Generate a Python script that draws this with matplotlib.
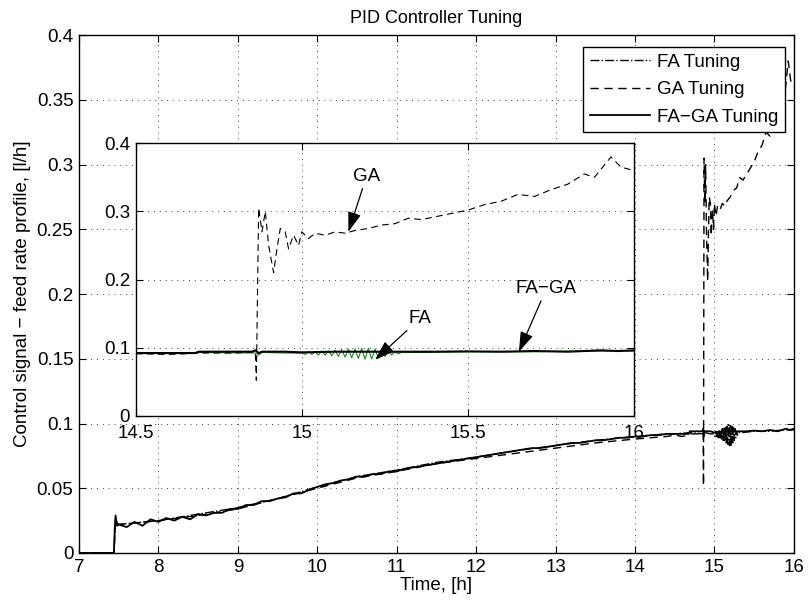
import numpy as np
import matplotlib.pyplot as plt

plt.rcParams['font.family'] = ['Liberation Sans', 'DejaVu Sans']
plt.rcParams['font.size'] = 13.5

# ---- early part of the run (7 h .. 14.4 h) ----
t_start = [7.0, 7.44, 7.45, 7.46, 7.48]
fa_ga_start = [0.0, 0.0, 0.018, 0.029, 0.021]
t_grid = np.round(np.arange(7.5, 14.45, 0.1), 2)
fa_ga_early = [0.022, 0.020, 0.024, 0.021, 0.026, 0.024, 0.027, 0.025, 0.028, 0.026,
               0.030, 0.029, 0.031, 0.031, 0.034, 0.034, 0.037, 0.037, 0.040, 0.040,
               0.042, 0.043, 0.046, 0.046, 0.049, 0.051, 0.053, 0.054, 0.056, 0.057,
               0.059, 0.059, 0.061, 0.061, 0.063, 0.063, 0.065, 0.066, 0.067, 0.068,
               0.069, 0.070, 0.071, 0.072, 0.073, 0.074, 0.075, 0.076, 0.077, 0.078,
               0.079, 0.080, 0.081, 0.081, 0.082, 0.083, 0.084, 0.085, 0.085, 0.086,
               0.087, 0.087, 0.088, 0.089, 0.089, 0.090, 0.090, 0.091, 0.091, 0.092]

t_coarse = [7.0, 7.44, 7.46, 7.5, 8.0, 8.5, 9.0, 9.5, 10.0, 10.5, 11.0, 11.5,
            12.0, 12.5, 13.0, 13.5, 14.0, 14.4]
ga_early = [0.0, 0.0, 0.025, 0.022, 0.025, 0.029, 0.034, 0.042, 0.050, 0.058, 0.063,
            0.069, 0.073, 0.077, 0.081, 0.085, 0.088, 0.090]
fa_early = [0.0, 0.0, 0.026, 0.022, 0.025, 0.030, 0.035, 0.042, 0.051, 0.059, 0.064,
            0.070, 0.074, 0.079, 0.083, 0.087, 0.090, 0.092]

# ---- detailed part (14.5 h .. 16 h), also shown in the inset ----
t_fa_ga = [14.5, 14.6, 14.68, 14.69, 14.75, 14.85, 14.86, 14.87, 14.88, 14.95, 15.0,
           15.1, 15.2, 15.3, 15.4, 15.5, 15.6, 15.7, 15.8, 15.85, 15.9, 15.95, 16.0]
fa_ga_late = [0.092, 0.092, 0.092, 0.094, 0.094, 0.094, 0.096, 0.092, 0.094, 0.094,
              0.093, 0.094, 0.094, 0.094, 0.094, 0.0945, 0.094, 0.095, 0.094, 0.095,
              0.096, 0.095, 0.096]

t_ga = [14.5, 14.6, 14.7, 14.8, 14.86, 14.863, 14.87, 14.88, 14.89, 14.9, 14.915,
        14.925, 14.935, 14.95, 14.96, 14.975, 14.99, 15.0, 15.02, 15.04, 15.07, 15.1,
        15.13, 15.16, 15.2, 15.24, 15.28, 15.32, 15.36, 15.4, 15.45, 15.5, 15.55, 15.6,
        15.65, 15.7, 15.75, 15.8, 15.85, 15.88, 15.93, 15.96, 16.0]
ga_late = [0.091, 0.090, 0.092, 0.092, 0.094, 0.052, 0.305, 0.27, 0.30, 0.25, 0.21,
           0.245, 0.275, 0.27, 0.245, 0.265, 0.25, 0.27, 0.26, 0.268, 0.265, 0.27,
           0.268, 0.272, 0.275, 0.28, 0.282, 0.29, 0.288, 0.292, 0.297, 0.302, 0.31,
           0.315, 0.325, 0.322, 0.332, 0.34, 0.355, 0.35, 0.38, 0.365, 0.36]

t_fa = [14.5, 14.7, 14.86, 14.87, 14.88, 14.95, 15.0, 15.01, 15.02, 15.03, 15.04,
        15.05, 15.06, 15.07, 15.08, 15.09, 15.10, 15.11, 15.12, 15.13, 15.14, 15.15,
        15.16, 15.17, 15.18, 15.19, 15.20, 15.21, 15.22, 15.23, 15.24, 15.25, 15.26,
        15.27, 15.28, 15.29, 15.30, 15.35, 15.5, 15.7, 15.85, 16.0]
fa_late = [0.092, 0.093, 0.092, 0.089, 0.093, 0.092, 0.092, 0.090, 0.094, 0.090,
           0.094, 0.089, 0.095, 0.089, 0.095, 0.088, 0.096, 0.087, 0.097, 0.086,
           0.098, 0.085, 0.098, 0.084, 0.099, 0.083, 0.099, 0.083, 0.098, 0.085,
           0.097, 0.087, 0.096, 0.089, 0.094, 0.091, 0.093, 0.093, 0.094, 0.094,
           0.095, 0.095]

t_main = t_start + list(t_grid) + t_fa_ga
fa_ga_main = fa_ga_start + fa_ga_early + fa_ga_late
t_ga_main = t_coarse + t_ga
ga_main = ga_early + ga_late
t_fa_main = t_coarse + t_fa
fa_main = fa_early + fa_late

fig = plt.figure(figsize=(8.1, 6.06), dpi=100)
ax = fig.add_axes([0.0975, 0.0875, 0.8825, 0.8545])

ax.plot(t_fa_main, fa_main, color='k', ls='-.', lw=1.0, label='FA Tuning')
ax.plot(t_ga_main, ga_main, color='k', ls=(0, (6, 4)), lw=1.0, label='GA Tuning')
ax.plot(t_main, fa_ga_main, color='k', ls='-', lw=1.3, label='FA\u2212GA Tuning')

ax.set_xlim(7, 16)
ax.set_ylim(0, 0.4)
ax.set_xticks(range(7, 17))
ax.set_yticks([0, 0.05, 0.1, 0.15, 0.2, 0.25, 0.3, 0.35, 0.4])
ax.set_yticklabels(['0', '0.05', '0.1', '0.15', '0.2', '0.25', '0.3', '0.35', '0.4'])
ax.tick_params(direction='in', top=True, right=True, length=5, width=0.8, pad=4)
ax.grid(True, color='#444444', ls=(0, (1, 5)), lw=0.7)
for s in ax.spines.values():
    s.set_linewidth(1.0)
ax.set_title('PID Controller Tuning', fontsize=13, pad=9)
ax.set_xlabel('Time, [h]', labelpad=1)
ax.set_ylabel('Control signal \u2212 feed rate profile, [l/h]', labelpad=4)

leg = ax.legend(loc='upper right', bbox_to_anchor=(0.9874, 0.9768), handlelength=3.2,
                fancybox=False, framealpha=1, edgecolor='k', borderpad=0.35,
                labelspacing=0.55, handletextpad=0.37, borderaxespad=0)
leg.get_frame().set_linewidth(1.0)

# ---- inset ----
ax_in = fig.add_axes([0.1675, 0.314, 0.6155, 0.4495])
ax_in.plot(t_fa, fa_late, color='#1a8c1a', lw=0.8)
ax_in.plot(t_ga, ga_late, color='k', ls=(0, (6, 4)), lw=0.8)
ax_in.plot(t_fa_ga, fa_ga_late, color='k', lw=1.5)
ax_in.set_xlim(14.5, 16)
ax_in.set_ylim(0, 0.4)
ax_in.set_xticks([14.5, 15, 15.5, 16])
ax_in.set_xticklabels(['14.5', '15', '15.5', '16'])
ax_in.set_yticks([0, 0.1, 0.2, 0.3, 0.4])
ax_in.set_yticklabels(['0', '0.1', '0.2', '0.3', '0.4'])
ax_in.tick_params(direction='in', top=True, right=True, length=5, width=0.8, pad=4)
ax_in.tick_params(axis='x', pad=7)
ax_in.grid(True, color='#444444', ls=(0, (1, 5)), lw=0.7)
for s in ax_in.spines.values():
    s.set_linewidth(1.0)

arrow = dict(arrowstyle='-|>,head_length=0.9,head_width=0.3', color='k', lw=0.9,
             shrinkA=1, shrinkB=0)
ax_in.annotate('GA', xy=(15.14, 0.27), xytext=(15.195, 0.352), ha='center',
               va='center', fontsize=13.5, arrowprops=arrow)
ax_in.annotate('FA', xy=(15.22, 0.082), xytext=(15.356, 0.143), ha='center',
               va='center', fontsize=13.5, arrowprops=arrow)
ax_in.annotate('FA\u2212GA', xy=(15.653, 0.094), xytext=(15.736, 0.187), ha='center',
               va='center', fontsize=13.5, arrowprops=arrow)

fig.savefig('out.png', dpi=100)
